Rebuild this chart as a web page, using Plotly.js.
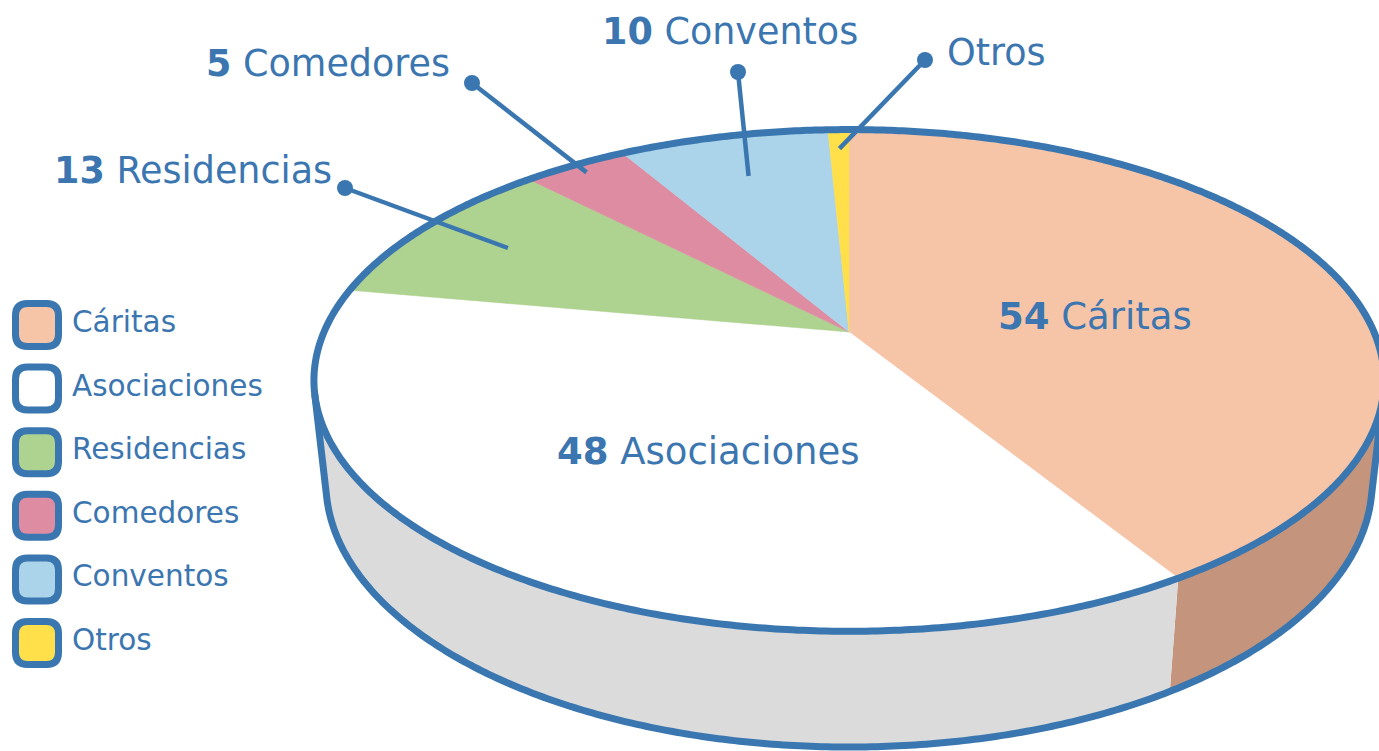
<!DOCTYPE html>
<html>
<head>
<meta charset="utf-8">
<script src="https://cdn.plot.ly/plotly-3.0.1.min.js"></script>
<style>html,body{margin:0;padding:0;background:#fff;}#chart{width:1379px;height:751px;}</style>
</head>
<body>
<div id="chart"></div>
<script>
// ---- data ----
const categories = ['Cáritas', 'Asociaciones', 'Residencias', 'Comedores', 'Conventos', 'Otros'];
const values = [54, 48, 13, 5, 10, 1];
const labelNumbers = ['54', '48', '13', '5', '10', ''];

// ---- styles ----
const topColors = ['#f6c5a8', '#ffffff', '#aed290', '#de8ca2', '#abd3e9', '#ffdf4a'];
const sideColors = ['#c4957c', '#dbdbdb', '#8fb073', '#b8748a', '#8eb0c2', '#d4b83e'];
const blue = '#3a77b0';
const textBlue = '#3b76b0';
const FONT = 'DejaVu Sans, Verdana, sans-serif';

// ---- 3D projection (perspective, pixel space) ----
const W = 1379, Hh = 751;
const CX = 849, CY = 332, F = 2415, DIST = 4.60;
const S = 0.46, C = 0.888;   // sin/cos of elevation
const DEPTH = 0.220;          // pie thickness (disk radius = 1)

function proj(X, Y, Z) {
  const y1 = Y * S + Z * C;
  const dep = DIST + Y * C - Z * S;
  return [CX + F * X / dep, CY - F * y1 / dep];
}
function pt(thetaDeg, r, Z) {
  const t = thetaDeg * Math.PI / 180;
  return proj(r * Math.sin(t), r * Math.cos(t), Z);
}
function arc(a, b, Z) {
  const pts = [];
  const n = Math.max(2, Math.ceil(Math.abs(b - a) / 0.5));
  for (let i = 0; i <= n; i++) pts.push(pt(a + (b - a) * i / n, 1, Z));
  return pts;
}

// slice angles (clockwise from top)
const total = values.reduce((s, v) => s + v, 0);
const starts = [], ends = [];
let acc = 0;
values.forEach(v => { starts.push(acc / total * 360); acc += v; ends.push(acc / total * 360); });

// visible side range (front facing)
const thA = Math.acos(-1 / (DIST * C)) * 180 / Math.PI;
const thB = 360 - thA;

const traces = [];
// sides
values.forEach((v, i) => {
  const a = Math.max(starts[i], thA), b = Math.min(ends[i], thB);
  if (b <= a) return;
  const topA = arc(a, b, 0), botA = arc(a, b, -DEPTH).reverse();
  const poly = topA.concat(botA);
  poly.push(poly[0]);
  traces.push({
    type: 'scatter', mode: 'lines', x: poly.map(p => p[0]), y: poly.map(p => p[1]),
    fill: 'toself', fillcolor: sideColors[i], line: {width: 0, color: sideColors[i], simplify: false}, hoverinfo: 'skip'
  });
});
// top faces
values.forEach((v, i) => {
  const poly = [proj(0, 0, 0)].concat(arc(starts[i], ends[i], 0));
  poly.push(poly[0]);
  traces.push({
    type: 'scatter', mode: 'lines', x: poly.map(p => p[0]), y: poly.map(p => p[1]),
    fill: 'toself', fillcolor: topColors[i], line: {width: 0.5, color: topColors[i], simplify: false}, hoverinfo: 'skip', name: categories[i]
  });
});
// outlines
const topRing = arc(0, 360, 0);
traces.push({type: 'scatter', mode: 'lines', x: topRing.map(p => p[0]), y: topRing.map(p => p[1]),
  line: {width: 7, color: blue, simplify: false}, hoverinfo: 'skip'});
const sil = [pt(thA, 1, 0)].concat(arc(thA, thB, -DEPTH)).concat([pt(thB, 1, 0)]);
traces.push({type: 'scatter', mode: 'lines', x: sil.map(p => p[0]), y: sil.map(p => p[1]),
  line: {width: 7, color: blue, simplify: false}, hoverinfo: 'skip'});

// ---- labels ----
// outside labels: leader from slice (radius fraction) to a dot, text position
const outsideLabels = {
  2: {r: 0.79, dot: [345, 188], text: [193, 170]},
  3: {r: 0.95, dot: [472, 83], text: [328, 63]},
  4: {r: 0.77, dot: [738, 72], text: [730, 31]},
  5: {r: 0.89, dot: [925, 60], text: [996, 52]}
};
const insideLabels = {
  0: {text: [1095, 316]},
  1: {text: [708, 451]}
};
const annotations = [];
Object.keys(outsideLabels).forEach(k => {
  const i = +k, L = outsideLabels[k];
  const mid = (starts[i] + ends[i]) / 2;
  const inner = pt(mid, L.r, 0);
  traces.push({type: 'scatter', mode: 'lines', x: [inner[0], L.dot[0]], y: [inner[1], L.dot[1]],
    line: {width: 4.5, color: blue}, hoverinfo: 'skip'});
  traces.push({type: 'scatter', mode: 'markers', x: [L.dot[0]], y: [L.dot[1]],
    marker: {size: 16, color: blue}, hoverinfo: 'skip'});
  const num = labelNumbers[i] ? '<b>' + labelNumbers[i] + '</b> ' : '';
  annotations.push({x: L.text[0], y: L.text[1], xref: 'x', yref: 'y', text: num + categories[i],
    showarrow: false, xanchor: 'center', yanchor: 'middle', font: {family: FONT, size: 36.5, color: textBlue}});
});
Object.keys(insideLabels).forEach(k => {
  const i = +k, L = insideLabels[k];
  annotations.push({x: L.text[0], y: L.text[1], xref: 'x', yref: 'y', text: '<b>' + labelNumbers[i] + '</b> ' + categories[i],
    showarrow: false, xanchor: 'center', yanchor: 'middle', font: {family: FONT, size: 37, color: textBlue}});
});

// ---- legend (custom) ----
const legendX0 = 15.5, legendSize = 43, legendY0 = 325, legendStep = 63.6, cr = 12;
const shapes = [];
categories.forEach((c, i) => {
  const cy = legendY0 + i * legendStep;
  const x0 = legendX0, x1 = legendX0 + legendSize, y0 = cy - legendSize / 2, y1 = cy + legendSize / 2;
  const path = `M ${x0 + cr} ${y0} L ${x1 - cr} ${y0} Q ${x1} ${y0} ${x1} ${y0 + cr} L ${x1} ${y1 - cr} Q ${x1} ${y1} ${x1 - cr} ${y1} L ${x0 + cr} ${y1} Q ${x0} ${y1} ${x0} ${y1 - cr} L ${x0} ${y0 + cr} Q ${x0} ${y0} ${x0 + cr} ${y0} Z`;
  shapes.push({type: 'path', path: path, xref: 'x', yref: 'y', fillcolor: topColors[i], line: {color: blue, width: 7}});
  annotations.push({x: 70, y: cy - 3, xref: 'x', yref: 'y', text: c, showarrow: false, xanchor: 'left', yanchor: 'middle',
    font: {family: FONT, size: 29.5, color: textBlue}});
});

const layout = {
  width: W, height: Hh, margin: {l: 0, r: 0, t: 0, b: 0, pad: 0},
  paper_bgcolor: '#ffffff', plot_bgcolor: '#ffffff', showlegend: false, hovermode: false,
  xaxis: {range: [0, W], visible: false, fixedrange: true},
  yaxis: {range: [Hh, 0], visible: false, fixedrange: true},
  shapes: shapes, annotations: annotations
};
Plotly.newPlot('chart', traces, layout, {staticPlot: true, displayModeBar: false});
</script>
</body>
</html>
